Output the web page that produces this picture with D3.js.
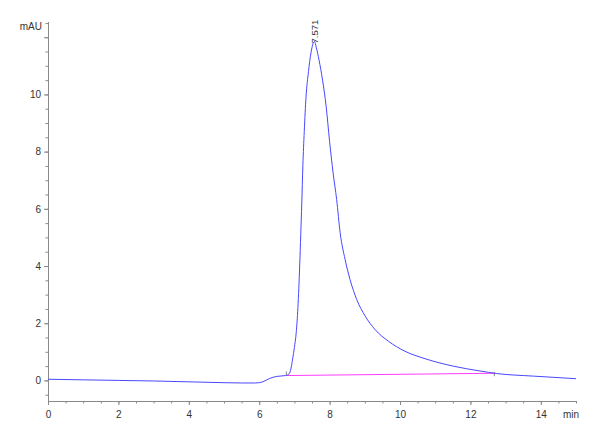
<!DOCTYPE html>
<html>
<head>
<meta charset="UTF-8">
<title>Chromatogram</title>
<script src="https://cdn.jsdelivr.net/npm/d3@7/dist/d3.min.js"></script>
<style>
  body { margin: 0; background: #fff; }
  text { font-family: "Liberation Sans", Arial, sans-serif; fill: #333; }
</style>
</head>
<body>
<div id="plot"></div>
<script>

// signal (min, mAU)
var times  = [0, 1, 2, 3, 4, 5, 5.5, 5.9, 6.1, 6.3, 6.5, 6.75, 6.85, 6.9, 6.95, 7.0,
              7.05, 7.1, 7.15, 7.18, 7.21, 7.24, 7.28, 7.33, 7.40, 7.47, 7.53,
              7.57, 7.62, 7.70, 7.80, 7.90, 8.0, 8.1, 8.2, 8.3, 8.44, 8.58, 8.77,
              9.01, 9.29, 9.67, 10.14, 10.71, 11.51, 12.27, 12.75, 13.79, 15]
var signal = [0.04, 0.02, 0.0, -0.02, -0.05, -0.08, -0.09, -0.09, -0.05, 0.07, 0.14, 0.17, 0.23, 0.4, 0.75, 1.15,
              1.65, 2.55, 4.0, 5.1, 6.2, 7.5, 8.7, 9.9, 10.8, 11.45, 11.78,
              11.85, 11.65, 11.2, 10.5, 9.6, 8.35, 7.25, 6.33, 5.16, 4.23, 3.53, 2.83,
              2.25, 1.78, 1.37, 1.02, 0.76, 0.5, 0.33, 0.24, 0.15, 0.06]

// integration baseline
var baseTimes  = [6.77, 12.68]
var baseValues = [0.17, 0.25]

// peak label
var peakTime  = 7.571
var peakValue = 11.85

var xMajor = [0, 2, 4, 6, 8, 10, 12, 14]
var yMajor = [0, 2, 4, 6, 8, 10, 12]
var yLabelled = [0, 2, 4, 6, 8, 10]

var width = 600, height = 440

var x = d3.scaleLinear().domain([0, 15]).range([48, 576])
var y = d3.scaleLinear().domain([-0.72, 12.55]).range([401, 21.5])

var svg = d3.select("#plot").append("svg")
  .attr("width", width)
  .attr("height", height)

var xMinor = d3.range(0, 15.01, 0.5)
var yMinor = d3.range(-0.5, 12.51, 0.5)

// minor ticks
svg.append("g")
  .attr("transform", "translate(0,401)")
  .call(d3.axisBottom(x).tickValues(xMinor).tickSize(2.5).tickFormat(""))
  .call(function(g) { g.select(".domain").remove() })
svg.append("g")
  .attr("transform", "translate(48,0)")
  .call(d3.axisLeft(y).tickValues(yMinor).tickSize(2.5).tickFormat(""))
  .call(function(g) { g.select(".domain").remove() })

// major ticks with labels
svg.append("g")
  .attr("class", "xaxis")
  .attr("transform", "translate(0,401)")
  .call(d3.axisBottom(x).tickValues(xMajor).tickSize(4).tickSizeOuter(0).tickPadding(6))
svg.append("g")
  .attr("class", "yaxis")
  .attr("transform", "translate(48,0)")
  .call(d3.axisLeft(y).tickValues(yMajor).tickSize(4).tickSizeOuter(0).tickPadding(3)
    .tickFormat(function(d) { return yLabelled.indexOf(d) >= 0 ? d : "" }))

svg.selectAll(".domain, .tick line").attr("stroke", "#8a8a8a")
svg.selectAll(".tick text")
  .style("font-family", "'Liberation Sans', Arial, sans-serif")
  .style("font-size", "10px")
  .attr("fill", "#333")

// axis units
svg.append("text")
  .attr("x", 42).attr("y", 30)
  .attr("text-anchor", "end")
  .style("font-size", "10px")
  .text("mAU")
svg.append("text")
  .attr("x", 563).attr("y", 418)
  .style("font-size", "10px")
  .text("min")

// baseline
svg.append("path")
  .datum(d3.zip(baseTimes, baseValues))
  .attr("fill", "none")
  .attr("stroke", "#ff3cff")
  .attr("stroke-width", 1)
  .attr("d", d3.line().x(function(d) { return x(d[0]) }).y(function(d) { return y(d[1]) }))

// baseline end marks
svg.selectAll(".mark")
  .data(d3.zip(baseTimes, baseValues))
  .enter().append("line")
  .attr("class", "mark")
  .attr("x1", function(d) { return x(d[0]) })
  .attr("x2", function(d) { return x(d[0]) })
  .attr("y1", function(d, i) { return y(d[1]) + (i ? -1 : -4) })
  .attr("y2", function(d, i) { return y(d[1]) + (i ? 3 : 0) })
  .attr("stroke", "#666")
  .attr("stroke-width", 0.8)

// trace
svg.append("path")
  .datum(d3.zip(times, signal))
  .attr("fill", "none")
  .attr("stroke", "#4848ff")
  .attr("stroke-width", 1)
  .attr("d", d3.line().curve(d3.curveMonotoneX)
    .x(function(d) { return x(d[0]) }).y(function(d) { return y(d[1]) }))

// peak retention time
svg.append("text")
  .attr("transform", "translate(" + x(peakTime) + "," + (y(peakValue) + 2) + ") rotate(-90)")
  .attr("dy", "0.35em")
  .style("font-size", "9.5px")
  .text(peakTime.toFixed(3))

</script>
</body>
</html>
